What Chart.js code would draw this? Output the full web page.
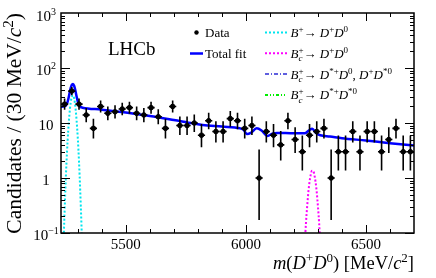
<!DOCTYPE html>
<html>
<head>
<meta charset="utf-8">
<script src="https://cdn.jsdelivr.net/npm/chart.js@4.4.0/dist/chart.umd.min.js"></script>
<style>
body { margin: 0; background: #fff; }
</style>
</head>
<body>
<canvas id="myChart" width="436" height="278"></canvas>
<script>
// 30 MeV bins, 5230 - 6700 MeV
var binCentres = [5245, 5275, 5305, 5335, 5365, 5395, 5425, 5455, 5485, 5515,
    5545, 5575, 5605, 5635, 5665, 5695, 5725, 5755, 5785, 5815,
    5845, 5875, 5905, 5935, 5965, 5995, 6025, 6055, 6085, 6115,
    6145, 6175, 6205, 6235, 6265, 6295, 6325, 6355, 6385, 6415,
    6445, 6475, 6505, 6535, 6565, 6595, 6625, 6655, 6685];
var counts = [22, 38, 22, 14, 8, 20, 15, 16, 18, 19,
    15, 14, 19, 13, 8, 20, 9, 9, 10, 6,
    11, 7, 7, 12, 11, 8, 9, 1, 7, 6,
    4, 11, 5, 3, 6, 7, 8, 1, 3, 3,
    7, 3, 7, 7, 3, 5, 8, 3, 3];

// total fit
var fitMass = [5230, 5240, 5250, 5255, 5260, 5265, 5270, 5275, 5280, 5285, 5290, 5295, 5300, 5305, 5310, 5320,
    5400, 5500, 5600, 5700, 5780, 5820, 5900, 5975, 5990, 6005, 6020, 6045, 6065, 6090, 6110, 6130,
    6200, 6245, 6262, 6276, 6292, 6310, 6350, 6400, 6500, 6600, 6700];
var fitTotal = [19.8, 19.9, 20.7, 22.6, 26.8, 33.8, 42.5, 49.5, 51.3, 47, 38.7, 30.4, 24.4, 21.1, 19.7, 19.0,
    17.5, 15.5, 13.4, 11.3, 9.8, 9.2, 8.6, 8.0, 7.5, 6.3, 6.6, 8.0, 7.3, 5.8, 6.4, 6.6,
    6.5, 6.5, 7.3, 7.9, 6.6, 6.0, 5.7, 5.3, 4.8, 4.3, 3.9];

// B+ -> D+ D0 component
var bpMass = [5230, 5240, 5250, 5255, 5260, 5265, 5270, 5275, 5280, 5285, 5290, 5295, 5300, 5305, 5310, 5315, 5320, 5330];
var bpSignal = [0.005, 0.06, 0.99, 2.96, 7.2, 14.2, 22.9, 30, 31.9, 27.6, 19.4, 11.1, 5.2, 2.0, 0.6, 0.15, 0.03, 0.001];

// Bc+ -> D+ D0 component
var bcMass = [6235, 6245, 6250, 6255, 6260, 6265, 6270, 6275, 6280, 6285, 6290, 6295, 6300, 6305, 6315];
var bcSignal = [0.01, 0.06, 0.15, 0.3, 0.55, 0.85, 1.15, 1.35, 1.35, 1.15, 0.85, 0.55, 0.3, 0.15, 0.02];

var xTicks = [5500, 6000, 6500];
var yTicks = [0.1, 1, 10, 100, 1000];
var yTickBase = ["10", "1", "10", "10", "10"];
var yTickExp = ["\u22121", "", "", "2", "3"];

var SERIF = '"Liberation Serif", "Times New Roman", serif';

function poisCdf(k, lam) {
    var term = Math.exp(-lam), sum = term;
    for (var i = 1; i <= k; i++) { term *= lam / i; sum += term; }
    return sum;
}
// Garwood 68% interval for a count
function garwood(n) {
    var a = 0.158655, lo = 0, l, h, m, j;
    if (n > 0) {
        l = 0; h = n;
        for (j = 0; j < 60; j++) { m = (l + h) / 2; if (poisCdf(n - 1, m) > 1 - a) l = m; else h = m; }
        lo = l;
    }
    l = n; h = n + 10 + 5 * Math.sqrt(n + 1);
    for (j = 0; j < 60; j++) { m = (l + h) / 2; if (poisCdf(n, m) > a) l = m; else h = m; }
    return [lo, l];
}

function pairs(xs, ys) {
    return xs.map(function (x, i) { return { x: x, y: ys[i] }; });
}

// rich text: parts {t, it, s:'sup'|'sub'|'pair', sub, sup}
function partFont(p, size) {
    var small = p.s === 'sup' || p.s === 'sub' || p.s === 'pair';
    var sz = small ? Math.round(size * 0.68) : size;
    return (p.it ? 'italic ' : '') + sz + 'px ' + SERIF;
}
function partWidth(ctx, p, size) {
    ctx.font = partFont(p, size);
    if (p.s === 'pair') return Math.max(ctx.measureText(p.sub).width, ctx.measureText(p.sup).width);
    return ctx.measureText(p.t).width;
}
function richWidth(ctx, parts, size) {
    var w = 0;
    parts.forEach(function (p) { w += partWidth(ctx, p, size); });
    return w;
}
function drawRich(ctx, parts, x, y, size) {
    ctx.textAlign = 'left';
    ctx.textBaseline = 'alphabetic';
    parts.forEach(function (p) {
        var w = partWidth(ctx, p, size);
        ctx.font = partFont(p, size);
        if (p.s === 'pair') {
            ctx.font = 'italic ' + Math.round(size * 0.68) + 'px ' + SERIF;
            ctx.fillText(p.sub, x, y + size * 0.25);
            ctx.font = Math.round(size * 0.68) + 'px ' + SERIF;
            ctx.fillText(p.sup, x, y - size * 0.38);
        } else if (p.s === 'sup') {
            ctx.fillText(p.t, x, y - size * 0.38);
        } else if (p.s === 'sub') {
            ctx.fillText(p.t, x, y + size * 0.25);
        } else {
            ctx.fillText(p.t, x, y);
        }
        x += w;
    });
}

var Bc = [{ t: 'B', it: 1 }, { s: 'pair', sub: 'c', sup: '+' }];
var legendRows = [
    { color: '#00e5ee', dash: [2, 2], text: [{ t: 'B', it: 1 }, { t: '+', s: 'sup' }, { t: '\u2192 ' }, { t: 'D', it: 1 }, { t: '+', s: 'sup' }, { t: 'D', it: 1 }, { t: '0', s: 'sup' }] },
    { color: '#ff00ff', dash: [2, 2], text: Bc.concat([{ t: '\u2192 ' }, { t: 'D', it: 1 }, { t: '+', s: 'sup' }, { t: 'D', it: 1 }, { t: '0', s: 'sup' }]) },
    { color: '#5f5fdf', dash: [4, 2, 1, 2], text: Bc.concat([{ t: '\u2192 ' }, { t: 'D', it: 1 }, { t: '*+', s: 'sup' }, { t: 'D', it: 1 }, { t: '0', s: 'sup' }, { t: ', ' }, { t: 'D', it: 1 }, { t: '+', s: 'sup' }, { t: 'D', it: 1 }, { t: '*0', s: 'sup' }]) },
    { color: '#00ee00', dash: [3, 2, 1, 2, 1, 2], text: Bc.concat([{ t: '\u2192 ' }, { t: 'D', it: 1 }, { t: '*+', s: 'sup' }, { t: 'D', it: 1 }, { t: '*0', s: 'sup' }]) }
];

var decor = {
    id: 'decor',
    afterDatasetsDraw: function (chart) {
        var ctx = chart.ctx, xs = chart.scales.x, ys = chart.scales.y, a = chart.chartArea;
        ctx.save();
        // error bars
        ctx.strokeStyle = '#000';
        ctx.lineWidth = 1.6;
        binCentres.forEach(function (m, i) {
            var n = counts[i], iv = garwood(n);
            var px = xs.getPixelForValue(m), py = ys.getPixelForValue(n);
            ctx.beginPath();
            ctx.moveTo(xs.getPixelForValue(m - 15), py);
            ctx.lineTo(xs.getPixelForValue(m + 15), py);
            ctx.moveTo(px, Math.min(ys.getPixelForValue(Math.max(iv[0], 0.05)), a.bottom));
            ctx.lineTo(px, ys.getPixelForValue(iv[1]));
            ctx.stroke();
        });
        ctx.restore();
    },
    afterDraw: function (chart) {
        var ctx = chart.ctx, xs = chart.scales.x, ys = chart.scales.y, a = chart.chartArea;
        ctx.save();
        ctx.fillStyle = '#000';
        ctx.strokeStyle = '#000';
        // frame
        ctx.lineWidth = 1.5;
        ctx.strokeRect(a.left, a.top, a.right - a.left, a.bottom - a.top);
        // x ticks (every 100 MeV, long at 500)
        ctx.lineWidth = 1;
        ctx.beginPath();
        for (var m = 5300; m <= 6600; m += 100) {
            var px = Math.round(xs.getPixelForValue(m)) + 0.5;
            var len = (m % 500 === 0) ? 8 : 4;
            ctx.moveTo(px, a.bottom); ctx.lineTo(px, a.bottom - len);
            ctx.moveTo(px, a.top); ctx.lineTo(px, a.top + len);
        }
        // y ticks (log)
        for (var d = 0.1; d < 1000; d *= 10) {
            for (var k = 1; k <= 9; k++) {
                var v = d * k;
                var py = Math.round(ys.getPixelForValue(v)) + 0.5;
                var l2 = (k === 1) ? 9 : 4;
                ctx.moveTo(a.left, py); ctx.lineTo(a.left + l2, py);
                ctx.moveTo(a.right, py); ctx.lineTo(a.right - l2, py);
            }
        }
        ctx.stroke();

        // x tick labels
        ctx.font = '15px ' + SERIF;
        ctx.textAlign = 'center';
        ctx.textBaseline = 'alphabetic';
        xTicks.forEach(function (t) {
            ctx.fillText(String(t), xs.getPixelForValue(t), 249);
        });
        // y tick labels
        yTicks.forEach(function (t, i) {
            var parts = [{ t: yTickBase[i] }];
            if (yTickExp[i]) parts.push({ t: yTickExp[i], s: 'sup' });
            var w = richWidth(ctx, parts, 15);
            var y = ys.getPixelForValue(t) + 7;
            if (i === yTicks.length - 1) y += 1;
            drawRich(ctx, parts, 46 - w / 2, y, 15);
        });

        // axis titles
        var xt = [{ t: 'm', it: 1 }, { t: '(' }, { t: 'D', it: 1 }, { t: '+', s: 'sup' }, { t: 'D', it: 1 }, { t: '0', s: 'sup' },
            { t: ') [MeV/' }, { t: 'c', it: 1 }, { t: '2', s: 'sup' }, { t: ']' }];
        var xw = richWidth(ctx, xt, 18.5);
        drawRich(ctx, xt, a.right - xw, 269, 18.5);

        var yt = [{ t: 'Candidates / (30 MeV/' }, { t: 'c', it: 1 }, { t: '2', s: 'sup' }, { t: ')' }];
        var yw = richWidth(ctx, yt, 21.5);
        ctx.save();
        ctx.translate(21, a.top);
        ctx.rotate(-Math.PI / 2);
        drawRich(ctx, yt, -yw, 0, 21.5);
        ctx.restore();

        // LHCb label
        ctx.font = '19px ' + SERIF;
        ctx.textAlign = 'left';
        ctx.fillText('LHCb', 108, 55);

        // legend, left column
        ctx.beginPath();
        ctx.arc(196.5, 32.5, 2.2, 0, Math.PI * 2);
        ctx.fill();
        ctx.strokeStyle = '#0000ff';
        ctx.lineWidth = 2.5;
        ctx.beginPath();
        ctx.moveTo(190, 53.5); ctx.lineTo(203, 53.5);
        ctx.stroke();
        ctx.font = '13px ' + SERIF;
        ctx.fillText('Data', 205, 37);
        ctx.fillText('Total fit', 205, 58);

        // legend, right column
        legendRows.forEach(function (r, i) {
            var y = 32.5 + i * 20.8;
            ctx.strokeStyle = r.color;
            ctx.lineWidth = 2;
            ctx.setLineDash(r.dash);
            ctx.beginPath();
            ctx.moveTo(265, y); ctx.lineTo(287, y);
            ctx.stroke();
            ctx.setLineDash([]);
            drawRich(ctx, r.text, 290.5, y + 4.5, 13);
        });
        ctx.restore();
    }
};

var ctx = document.getElementById('myChart').getContext('2d');
var myChart = new Chart(ctx, {
    type: 'scatter',
    data: {
        datasets: [
            {
                label: 'Data',
                data: pairs(binCentres, counts),
                backgroundColor: '#000',
                borderColor: '#000',
                pointRadius: 2.3,
                showLine: false,
                order: 0
            },
            {
                label: 'Total fit',
                data: pairs(fitMass, fitTotal),
                borderColor: '#0000ff',
                borderWidth: 2.5,
                pointRadius: 0,
                showLine: true,
                cubicInterpolationMode: 'monotone',
                order: 1
            },
            {
                label: 'B+ -> D+ D0',
                data: pairs(bpMass, bpSignal),
                borderColor: '#00e5ee',
                borderWidth: 2,
                borderDash: [2, 2],
                pointRadius: 0,
                showLine: true,
                cubicInterpolationMode: 'monotone',
                order: 2
            },
            {
                label: 'Bc+ -> D+ D0',
                data: pairs(bcMass, bcSignal),
                borderColor: '#ff00ff',
                borderWidth: 2,
                borderDash: [2, 2],
                pointRadius: 0,
                showLine: true,
                cubicInterpolationMode: 'monotone',
                order: 3
            },
            { label: 'Bc+ -> D*+ D0, D+ D*0', data: [], borderColor: '#5f5fdf', showLine: true, pointRadius: 0 },
            { label: 'Bc+ -> D*+ D*0', data: [], borderColor: '#00ee00', showLine: true, pointRadius: 0 }
        ]
    },
    options: {
        responsive: false,
        animation: false,
        layout: { padding: { left: 61, right: 22, top: 13, bottom: 45 } },
        plugins: { legend: { display: false }, tooltip: { enabled: false } },
        scales: {
            x: { type: 'linear', min: 5230, max: 6700, display: false },
            y: { type: 'logarithmic', min: 0.1, max: 1000, display: false }
        }
    },
    plugins: [decor]
});
</script>
</body>
</html>
